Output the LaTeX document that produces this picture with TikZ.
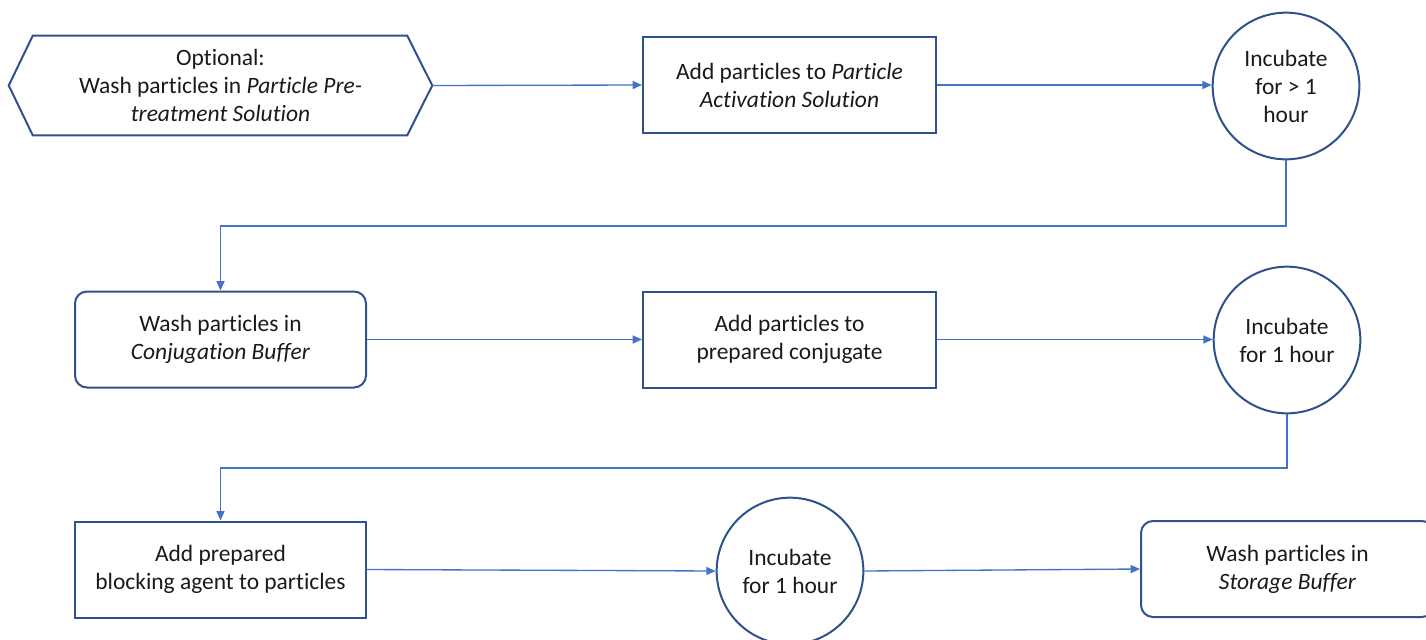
\documentclass[tikz,border=0pt]{standalone}
\usepackage{fontspec}
\setmainfont{Carlito}[Ligatures={NoCommon,NoRare}]
\usetikzlibrary{arrows.meta}
\definecolor{dblue}{HTML}{2F528F}
\definecolor{lblue}{HTML}{4472C4}
\definecolor{txt}{HTML}{1A1A1A}
\begin{document}
\begin{tikzpicture}[x=0.75pt,y=-0.75pt,
  every node/.style={font=\fontsize{17.6}{21}\selectfont, text=txt},
  boxs/.style={draw=dblue, line width=1.5pt, minimum width=219.75pt, minimum height=72pt, align=center, inner sep=0pt},
  rboxs/.style={boxs, rounded corners=9pt},
  circs/.style={circle, draw=dblue, line width=1.5pt, minimum size=110pt, align=center, inner sep=0pt},
  hexline/.style={draw=dblue, line width=1.5pt, line join=miter},
  conn/.style={draw=lblue, line width=1pt, -{Triangle[length=7pt,width=6pt]}}
]
\useasboundingbox (0,0) rectangle (1426,639);
\clip (0,0) rectangle (1426,639);

% row 1
\node[minimum width=317.25pt, minimum height=74.25pt, inner sep=0pt, align=center] (hex) at (220.5,85.5)
  {Optional:\\Wash particles in \textit{Particle Pre-}\\\textit{treatment Solution}};
\draw[hexline] (hex.west) -- ([xshift=18pt]hex.north west) -- ([xshift=-18.75pt]hex.north east)
  -- (hex.east) -- ([xshift=-18.75pt]hex.south east) -- ([xshift=18pt]hex.south west) -- cycle;
\node[boxs] (b1) at (789.5,85) {Add particles to \textit{Particle}\\\textit{Activation Solution}};
\node[circs] (c1) at (1286,86) {Incubate\\for > 1\\hour};

% row 2
\node[rboxs, minimum width=218.25pt] (b2) at (220.5,339.5) {Wash particles in\\\textit{Conjugation Buffer}};
\node[boxs] (b3) at (789.5,339.5) {Add particles to\\prepared conjugate};
\node[circs] (c2) at (1287,340) {Incubate\\for 1 hour};

% row 3
\node[boxs, minimum width=218.25pt] (b4) at (220.5,569.5) {Add prepared\\blocking agent to particles};
\node[circs] (c3) at (790,571) {Incubate\\for 1 hour};
\node[rboxs] (b5) at (1287.5,569) {Wash particles in\\\textit{Storage Buffer}};

% bend points
\coordinate (k1) at (1286,226);
\coordinate (k2) at (1287,468);

% connectors
\draw[conn] (hex.east) -- (b1.west);
\draw[conn] (b1.east) -- (b1.east -| c1.west);
\draw[conn] (c1.south) -- (k1) -| (b2.north);
\draw[conn] (b2.east) -- (b3.west);
\draw[conn] (b3.east) -- (b3.east -| c2.west);
\draw[conn] (c2.south) -- (k2) -| (b4.north);
\draw[conn] (b4.east) -- (c3.west);
\draw[conn] (c3.east) -- (b5.west);
\end{tikzpicture}
\end{document}
